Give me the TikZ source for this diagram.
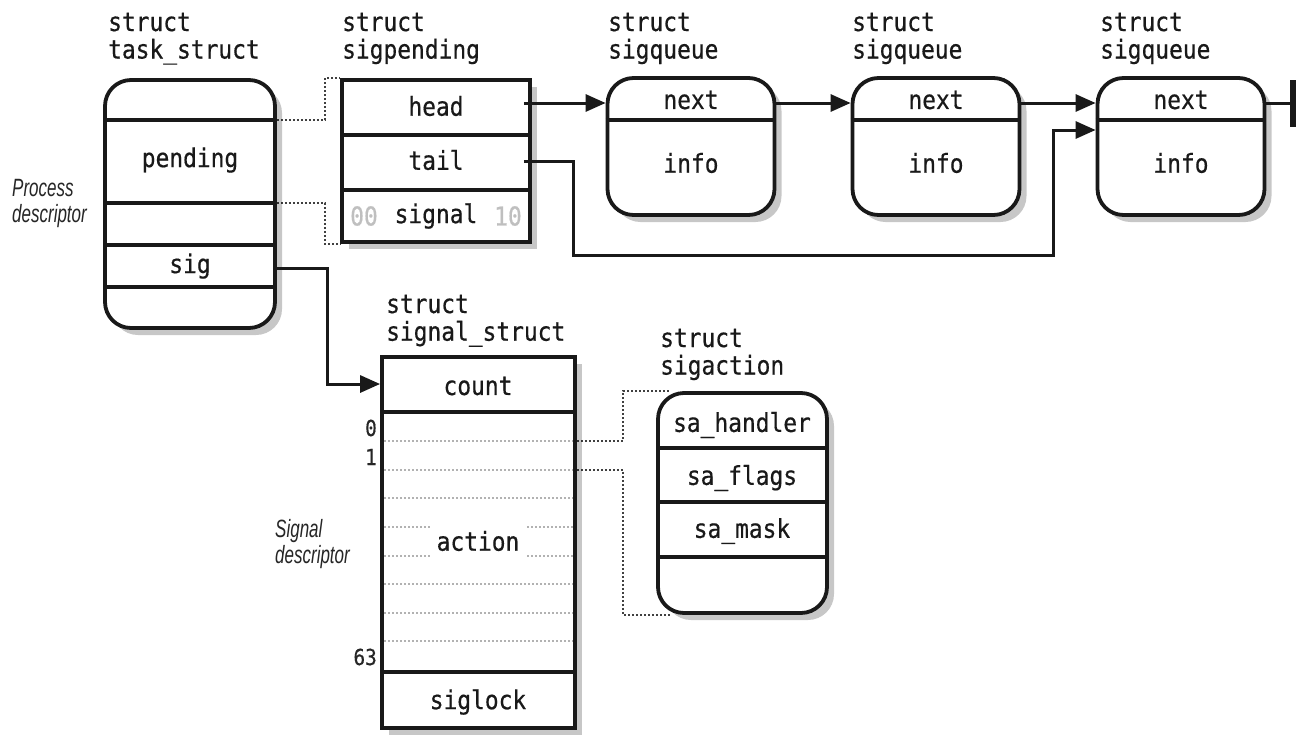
\documentclass[tikz,border=0pt]{standalone}
\usepackage{fontspec}
\newfontfamily\monof[FakeStretch=0.88,FakeBold=0.5]{DejaVu Sans Mono}
\newfontfamily\itf[FakeStretch=0.68]{Liberation Sans}
\usetikzlibrary{arrows.meta,shadows,calc}
\pgfdeclarelayer{bg}\pgfsetlayers{bg,main}
\tikzset{
 box/.style={draw=black!90, line width=3.8pt, fill=white, drop shadow={shadow xshift=7pt,shadow yshift=-7pt,fill=black,opacity=0.22}},
 rbox/.style={box, rounded corners=26pt},
 fld/.style={font=\monof\fontsize{26}{26}\selectfont, text=black!90, inner sep=0pt},
 lbl/.style={fld, anchor=base west},
 num/.style={font=\monof\fontsize{22}{22}\selectfont, text=black!85, inner sep=0pt, anchor=base east},
 sep/.style={line width=3.8pt, draw=black!90},
 arr/.style={line width=3pt, draw=black!90, -{Triangle[length=20pt,width=17pt]}},
 link/.style={line width=3pt, draw=black!90},
 dotc/.style={line width=1.6pt, dash pattern=on 2pt off 2pt, draw=black!75},
 slot/.style={line width=1.4pt, dash pattern=on 2pt off 2pt, draw=black!30},
 side/.style={font=\itf\itshape\fontsize{25}{26}\selectfont, anchor=base west, inner sep=0pt, text=black!85},
}
\begin{document}
\begin{tikzpicture}[x=1pt,y=-1pt]
\begin{pgfonlayer}{bg}
\fill[white] (0,0) rectangle (1306,734);
\end{pgfonlayer}
\useasboundingbox (0,0) rectangle (1306,734);

% labels
\node[lbl] (l1) at (108,31) {\begin{tabular}[t]{@{}l@{}}struct\\task\_struct\end{tabular}};
\node[lbl] (l2) at (342,31) {\begin{tabular}[t]{@{}l@{}}struct\\sigpending\end{tabular}};
\node[lbl] (l3) at (608,31) {\begin{tabular}[t]{@{}l@{}}struct\\sigqueue\end{tabular}};
\node[lbl] (l4) at (852,31) {\begin{tabular}[t]{@{}l@{}}struct\\sigqueue\end{tabular}};
\node[lbl] (l5) at (1100,31) {\begin{tabular}[t]{@{}l@{}}struct\\sigqueue\end{tabular}};
\node[lbl] (l6) at (386,313) {\begin{tabular}[t]{@{}l@{}}struct\\signal\_struct\end{tabular}};
\node[lbl] (l7) at (660,347) {\begin{tabular}[t]{@{}l@{}}struct\\sigaction\end{tabular}};

\node[side] (pd) at (12,196) {\begin{tabular}[t]{@{}l@{}}Process\\descriptor\end{tabular}};
\node[side] (sd) at (275,537) {\begin{tabular}[t]{@{}l@{}}Signal\\descriptor\end{tabular}};

% task_struct
\node[rbox, minimum width=170pt, minimum height=248pt] (task) at (190,204) {};
\foreach \yy in {120,203,245,287} \draw[sep] (task.west |- 0,\yy) -- (task.east |- 0,\yy);
\node[fld] (pending) at (190,160) {pending};
\node[fld] (sig) at (190,266) {sig};

% sigpending
\node[box, minimum width=188pt, minimum height=162pt] (sigp) at (436,161) {};
\foreach \yy in {135,190} \draw[sep] (sigp.west |- 0,\yy) -- (sigp.east |- 0,\yy);
\node[fld] (head) at (436,106) {head};
\node[fld] (tail) at (436,160) {tail};
\node[fld] (signal) at (436,216) {signal};
\node[fld, text=black!25] (s00) at (364,216) {00};
\node[fld, text=black!25] (s10) at (508,216) {10};

% sigqueues
\foreach \n/\xx in {q1/691,q2/936,q3/1181}{
  \node[rbox, minimum width=167pt, minimum height=137pt] (\n) at (\xx,146.5) {};
  \draw[sep] (\n.west |- 0,120) -- (\n.east |- 0,120);
  \node[fld] (\n next) at (\xx,100) {next};
  \node[fld] (\n info) at (\xx,163) {info};
}

% signal_struct
\node[box, minimum width=193pt, minimum height=371pt] (ss) at (478.5,542.5) {};
\foreach \yy in {412,672} \draw[sep] (ss.west |- 0,\yy) -- (ss.east |- 0,\yy);
\foreach \yy in {441,470,498,584,613,641} \draw[slot] ([xshift=4pt]ss.west |- 0,\yy) -- ([xshift=-4pt]ss.east |- 0,\yy);
\foreach \yy in {527,556} {
  \draw[slot] ([xshift=4pt]ss.west |- 0,\yy) -- (430,\yy);
  \draw[slot] (527,\yy) -- ([xshift=-4pt]ss.east |- 0,\yy);
}
\node[fld] (count) at (478,386) {count};
\node[fld] (action) at (478,541) {action};
\node[fld] (siglock) at (478,702) {siglock};
\node[num] (n0) at (377,436) {0};
\node[num] (n1) at (377,465) {1};
\node[num] (n63) at (377,665) {63};

% sigaction
\node[rbox, minimum width=169pt, minimum height=220pt] (sa) at (742.5,503) {};
\foreach \yy in {448,502,557} \draw[sep] (sa.west |- 0,\yy) -- (sa.east |- 0,\yy);
\node[fld] (sah) at (742,425) {sa\_handler};
\node[fld] (saf) at (742,478) {sa\_flags};
\node[fld] (sam) at (742,531) {sa\_mask};

% dotted connectors
\begin{pgfonlayer}{bg}
\draw[dotc] (task.east |- 0,120) -- (325,120) |- (sigp.north west);
\draw[dotc] (task.east |- 0,203) -- (325,203) |- (sigp.south west);
\draw[dotc] (ss.east |- 0,441) -- (623,441) |- ([xshift=14pt]sa.north west);
\draw[dotc] (ss.east |- 0,470) -- (623,470) |- ([xshift=14pt]sa.south west);
\end{pgfonlayer}

% arrows
\draw[arr] ([xshift=-8pt]sigp.east |- 0,103) -- (q1.west |- 0,103);
\draw[arr] (q1.east |- 0,103) -- (q2.west |- 0,103);
\draw[arr] (q2.east |- 0,103) -- (q3.west |- 0,103);
\coordinate (nullend) at (1293,103);
\draw[link] (q3.east |- 0,103) -- (nullend);
\draw[line width=6pt, draw=black!90] ([yshift=23pt]nullend) -- ([yshift=-24pt]nullend);
\draw[arr] ([xshift=-8pt]sigp.east |- 0,161) -| (573,255) -| (1053,130) -- (q3.west |- 0,130);
\draw[arr] (task.east |- 0,268) -| (327,384) -- (ss.west |- 0,384);
\end{tikzpicture}
\end{document}
